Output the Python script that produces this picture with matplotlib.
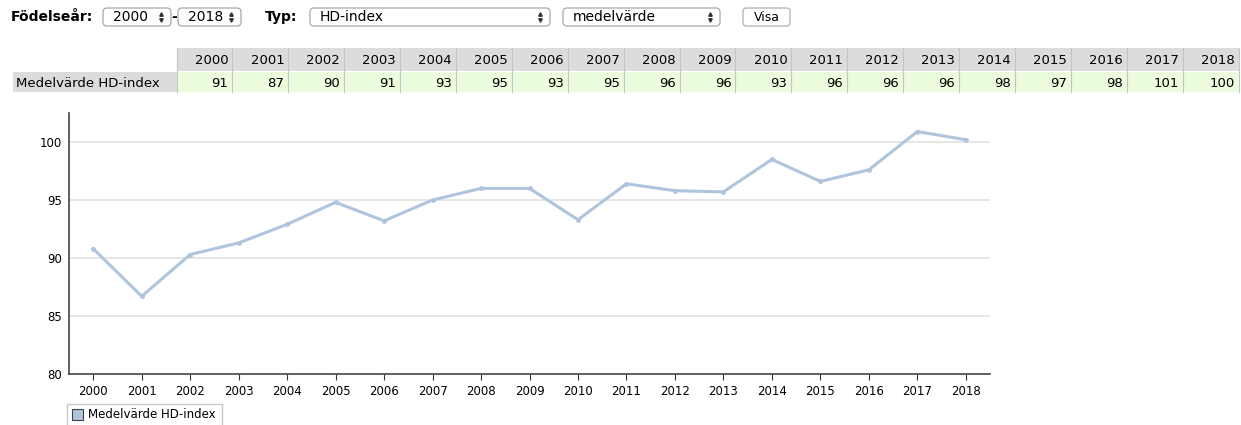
import numpy as np
import matplotlib.pyplot as plt
from matplotlib.patches import Rectangle, FancyBboxPatch

# data
years = [str(y) for y in range(2000, 2019)]
table_values = [91, 87, 90, 91, 93, 95, 93, 95, 96, 96, 93, 96, 96, 96, 98, 97, 98, 101, 100]
hd_index = [90.8, 86.7, 90.3, 91.3, 92.9, 94.8, 93.2, 95.0, 96.0, 96.0,
            93.3, 96.4, 95.8, 95.7, 98.5, 96.6, 97.6, 100.9, 100.2]
yticks = [80, 85, 90, 95, 100]
series_name = "Medelvärde HD-index"

line_color = "#b0c4de"
W, H = 1241, 425

fig = plt.figure(figsize=(W / 100, H / 100), dpi=100)

# overlay in pixel coordinates for the page controls and the table
ov = fig.add_axes([0, 0, 1, 1])
ov.set_xlim(0, W)
ov.set_ylim(H, 0)
ov.axis("off")

cy = 17  # vertical centre of the control row

def select_box(x0, x1, label, y0=8, y1=26):
    box = FancyBboxPatch((x0, y0), x1 - x0, y1 - y0,
                         boxstyle="round,pad=0,rounding_size=4",
                         fc="white", ec="#a8a8a8", lw=0.9)
    ov.add_patch(box)
    ov.text(x0 + 10, cy, label, fontsize=10, va="center", ha="left")
    ov.plot([x1 - 10], [cy - 3], marker="^", ms=2.5, color="#333333")
    ov.plot([x1 - 10], [cy + 3], marker="v", ms=2.5, color="#333333")

ov.text(11, cy, "Födelseår:", fontsize=10, fontweight="bold", va="center")
select_box(103, 171, "2000")
ov.text(171, cy, "-", fontsize=10, fontweight="bold", va="center")
select_box(178, 241, "2018")
ov.text(265, cy, "Typ:", fontsize=10, fontweight="bold", va="center")
select_box(310, 550, "HD-index")
select_box(563, 720, "medelvärde")
visa = FancyBboxPatch((743, 8), 47, 18, boxstyle="round,pad=0,rounding_size=3",
                      fc="white", ec="#b0b0b0", lw=0.9)
ov.add_patch(visa)
ov.text(766.5, cy, "Visa", fontsize=9, ha="center", va="center")

# table
col_x0 = 176.5
col_w = 55.9
hdr_y0, hdr_y1 = 48, 71
row_y0, row_y1 = 72, 92
for i, (yr, v) in enumerate(zip(years, table_values)):
    x = col_x0 + i * col_w
    ov.add_patch(Rectangle((x, hdr_y0), col_w, hdr_y1 - hdr_y0, fc="#dcdcdc", ec="none"))
    ov.add_patch(Rectangle((x, row_y0), col_w, row_y1 - row_y0, fc="#eafcdc", ec="none"))
    ov.plot([x + col_w, x + col_w], [hdr_y0, row_y1], color="#c4c4c4", lw=0.8)
    ov.text(x + col_w - 4, (hdr_y0 + hdr_y1) / 2 + 1, yr, fontsize=9.5, ha="right", va="center")
    ov.text(x + col_w - 4, (row_y0 + row_y1) / 2 + 1, str(v), fontsize=9.5, ha="right", va="center")
ov.plot([col_x0, col_x0], [hdr_y0, row_y1], color="#c4c4c4", lw=0.8)
ov.add_patch(Rectangle((13, row_y0), col_x0 - 13, row_y1 - row_y0, fc="#dcdcdc", ec="none"))
ov.text(16, (row_y0 + row_y1) / 2 + 1, series_name, fontsize=9.5, ha="left", va="center")

# legend box
ov.add_patch(Rectangle((67, 404), 155, 24, fc="white", ec="#c8c8c8", lw=1))
ov.add_patch(Rectangle((72, 409), 11, 11, fc=line_color, ec="#444444", lw=0.8))
ov.text(88, 415, series_name, fontsize=8.5, ha="left", va="center")

# chart
ax = fig.add_axes([69 / W, 1 - 374 / H, 921 / W, 261 / H])
x = np.arange(len(years))
ax.plot(x, hd_index, color=line_color, lw=2.2, marker="o", ms=2.5, zorder=3)
ax.set_xlim(-0.5, len(years) - 0.5)
ax.set_ylim(80, 102.5)
ax.set_xticks(x)
ax.set_xticklabels(years, fontsize=8.5)
ax.set_yticks(yticks)
ax.set_yticklabels([str(t) for t in yticks], fontsize=8.5)
ax.tick_params(axis="y", length=0, pad=5)
ax.tick_params(axis="x", length=4, color="#333333", pad=4)
for t in yticks[1:]:
    ax.axhline(t, color="#e2e2e2", lw=1.2, zorder=1)
for s in ["top", "right"]:
    ax.spines[s].set_visible(False)
ax.spines["left"].set_color("#444444")
ax.spines["bottom"].set_color("#444444")
ax.spines["left"].set_linewidth(1.2)
ax.spines["bottom"].set_linewidth(1.2)

fig.savefig("out.png", dpi=100)
